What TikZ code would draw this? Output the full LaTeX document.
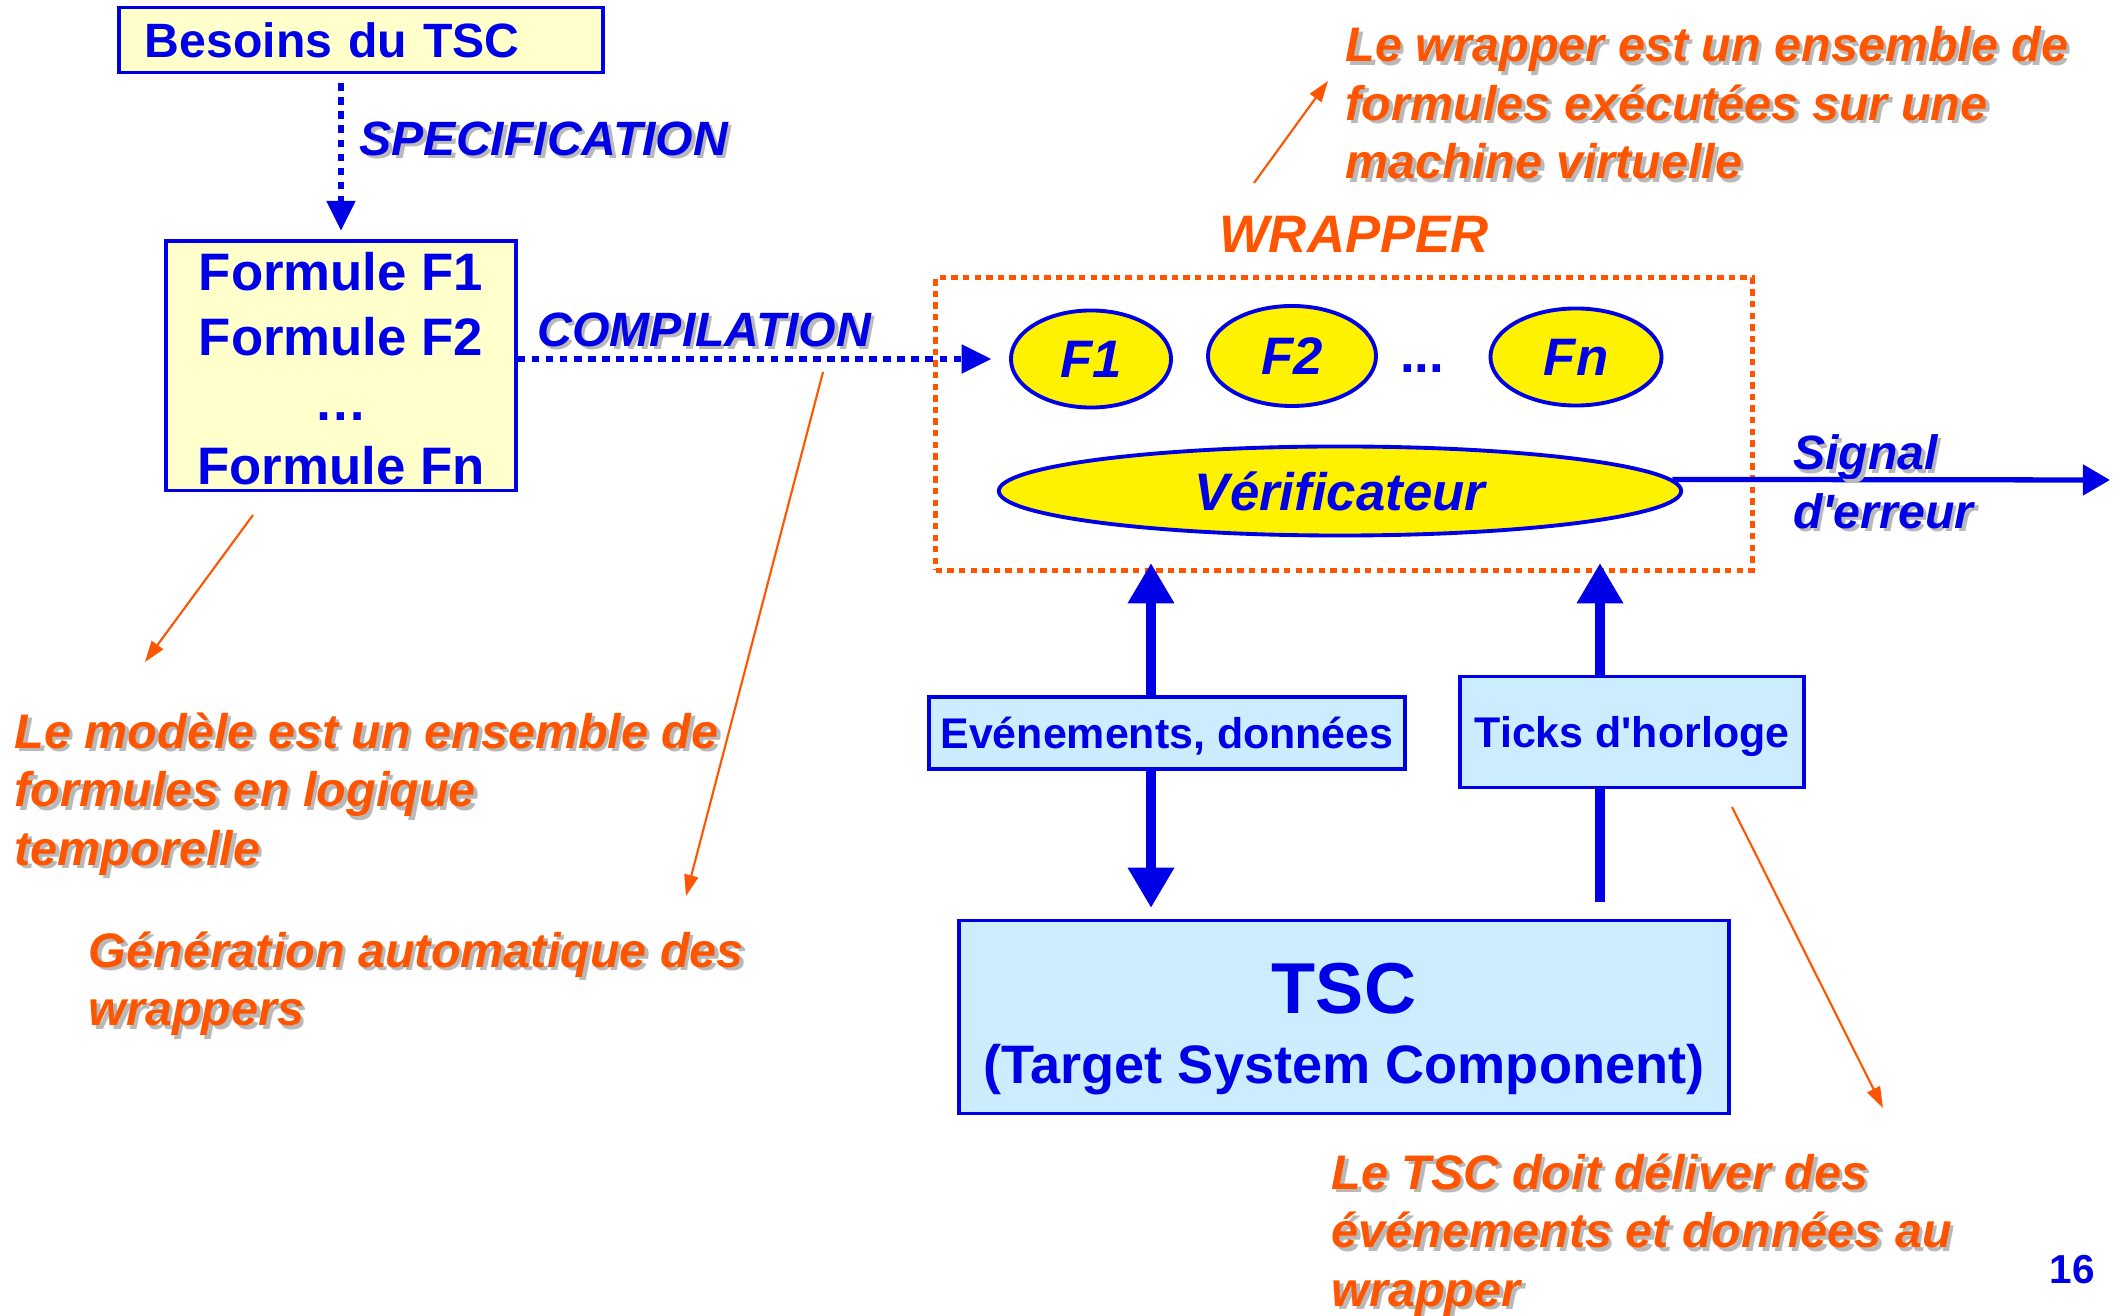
\documentclass[tikz,border=0pt]{standalone}
\usepackage{fontspec}
\setmainfont{Liberation Sans}
\usetikzlibrary{arrows.meta,shapes.geometric}

\definecolor{slideblue}{RGB}{0,0,230}
\definecolor{noteorange}{RGB}{255,85,0}
\definecolor{paleyellow}{RGB}{255,255,204}
\definecolor{paleblue}{RGB}{204,236,255}
\definecolor{shadowgray}{RGB}{185,185,185}

\newcommand{\shd}[1]{\rlap{\kern1pt\raisebox{-1pt}{\textcolor{shadowgray}{#1}}}#1}

\tikzset{
  yellowbox/.style={draw=slideblue,line width=1.1pt,fill=paleyellow,text=slideblue,inner sep=0pt},
  bluebox/.style={draw=slideblue,line width=1.1pt,fill=paleblue,text=slideblue,inner sep=0pt,font=\bfseries\fontsize{12.2}{14}\selectfont},
  formula/.style={ellipse,draw=slideblue,line width=1.1pt,fill=yellow,text=slideblue,inner sep=0pt,font=\bfseries\itshape\fontsize{15}{18}\selectfont},
  labelfont/.style={text=slideblue,inner sep=0pt,font=\bfseries\itshape\fontsize{13.7}{16.6}\selectfont},
  note/.style={text=noteorange,inner sep=0pt,anchor=north west,align=left,font=\bfseries\itshape\fontsize{13.8}{16.6}\selectfont},
  wrapbox/.style={draw=noteorange,line width=1.4pt,dash pattern=on 1.8pt off 1.5pt},
  dotarrow/.style={draw=slideblue,line width=1.5pt,dash pattern=on 2.2pt off 1.8pt,-{Triangle[length=8.5pt,width=8pt]}},
  bigarrow/.style={draw=slideblue,line width=3.1pt,-{Triangle[length=11.5pt,width=12.5pt]}},
  sigarrow/.style={draw=slideblue,line width=1.5pt,-{Triangle[length=7.7pt,width=8.5pt]}},
  pointer/.style={draw=noteorange,line width=0.6pt,-{Triangle[length=6pt,width=4pt]}}
}

\begin{document}
\begin{tikzpicture}[x=0.01cm,y=-0.01cm]
\fill[white] (0,0) rectangle (2123,1316);
\useasboundingbox (0,0) rectangle (2123,1316);

\node[yellowbox,minimum width=4.84cm,minimum height=0.65cm,text width=4.32cm,inner xsep=0.26cm,align=left,font=\bfseries\fontsize{13.7}{16}\selectfont] (besoins) at (361,40) {Besoins du TSC};
\node[yellowbox,minimum width=3.49cm,minimum height=2.49cm,align=center,font=\bfseries\fontsize{15}{18.4}\selectfont] (formules) at (341,366) {\rule{0pt}{12.5pt}Formule F1\\Formule F2\\\dots\\Formule Fn};
\draw[dotarrow,shorten <=2.5pt,shorten >=2.5pt] (besoins.south -| formules.north) -- (formules.north) node[pos=0.4,right=0.16cm,labelfont] {\shd{SPECIFICATION}};

\node[wrapbox,minimum width=8.16cm,minimum height=2.92cm] (wrap) at (1344,424) {};
\node[text=noteorange,inner sep=0pt,font=\bfseries\itshape\fontsize{15}{18}\selectfont] (wraptitle) at (1354,234) {WRAPPER};
\node[formula,minimum width=1.60cm,minimum height=0.97cm] (F1) at (1091,359) {F1};
\node[formula,minimum width=1.68cm,minimum height=1.00cm] (F2) at (1292,356) {F2};
\node[text=slideblue,inner sep=0pt,font=\bfseries\fontsize{15}{18}\selectfont] (fdots) at (1422,369) {...};
\node[formula,minimum width=1.71cm,minimum height=0.97cm] (Fn) at (1576,357) {Fn};
\node[formula,minimum width=6.82cm,minimum height=0.89cm] (verif) at (1340,491) {Vérificateur};
\draw[dotarrow,shorten >=5pt] (formules.east |- F1) -- (F1.west) node[pos=0.38,above=1.7pt,labelfont] {\shd{COMPILATION}};

\coordinate (sigend) at (2110,480);
\draw[sigarrow] (verif.2) -- (sigend) node[pos=0.27,anchor=west,align=left,yshift=-0.04cm,labelfont] {\shd{Signal}\\\shd{d\textquotesingle erreur}};

\node[bluebox,minimum width=4.75cm,minimum height=0.72cm,text depth=0pt] (evts) at (1167,733) {Evénements, données};
\node[bluebox,minimum width=3.44cm,minimum height=1.11cm,text depth=0pt] (ticks) at (1632,732) {Ticks d\textquotesingle horloge};
\node[bluebox,minimum width=7.70cm,minimum height=1.93cm,align=center,font=\bfseries\fontsize{15.4}{20}\selectfont] (tsc) at (1344,1017) {{\fontsize{20.5}{20}\selectfont\rule{0pt}{21pt}TSC}\\(Target System Component)};

\coordinate (evtin) at (1151,563);
\coordinate (tickin) at (1600,563);
\draw[bigarrow] (evts.north -| evtin) -- (evtin);
\draw[bigarrow,shorten >=3pt] (evts.south -| evtin) -- (evtin |- tsc.north);
\draw[bigarrow] (ticks.north -| tickin) -- (tickin);
\draw[draw=slideblue,line width=3.1pt,shorten >=4.8pt] (ticks.south -| tickin) -- (tickin |- tsc.north);

\node[note] (modele) at (14,712) {\shd{Le modèle est un ensemble de}\\\shd{formules en logique}\\\shd{temporelle}};
\node[note] (generation) at (88,931) {\shd{Génération automatique des}\\\shd{wrappers}};
\node[note] (wrapnote) at (1345,26) {\shd{Le wrapper est un ensemble de}\\\shd{formules exécutées sur une}\\\shd{machine virtuelle}};
\node[note] (tscnote) at (1331,1153) {\shd{Le TSC doit déliver des}\\\shd{événements et données au}\\\shd{wrapper}};

\coordinate (p1s) at (253,515);
\coordinate (p1e) at (145,662);
\coordinate (p2s) at (823,372);
\coordinate (p2e) at (686,896);
\coordinate (p3s) at (1254,183);
\coordinate (p3e) at (1328,81);
\coordinate (p4s) at (1732,807);
\coordinate (p4e) at (1883,1108);
\draw[pointer] (p1s) -- (p1e);
\draw[pointer] (p2s) -- (p2e);
\draw[pointer] (p3s) -- (p3e);
\draw[pointer] (p4s) -- (p4e);

\node[text=slideblue,inner sep=0pt,font=\bfseries\fontsize{11.5}{12}\selectfont] (pagenum) at (2072,1270) {16};
\end{tikzpicture}
\end{document}
